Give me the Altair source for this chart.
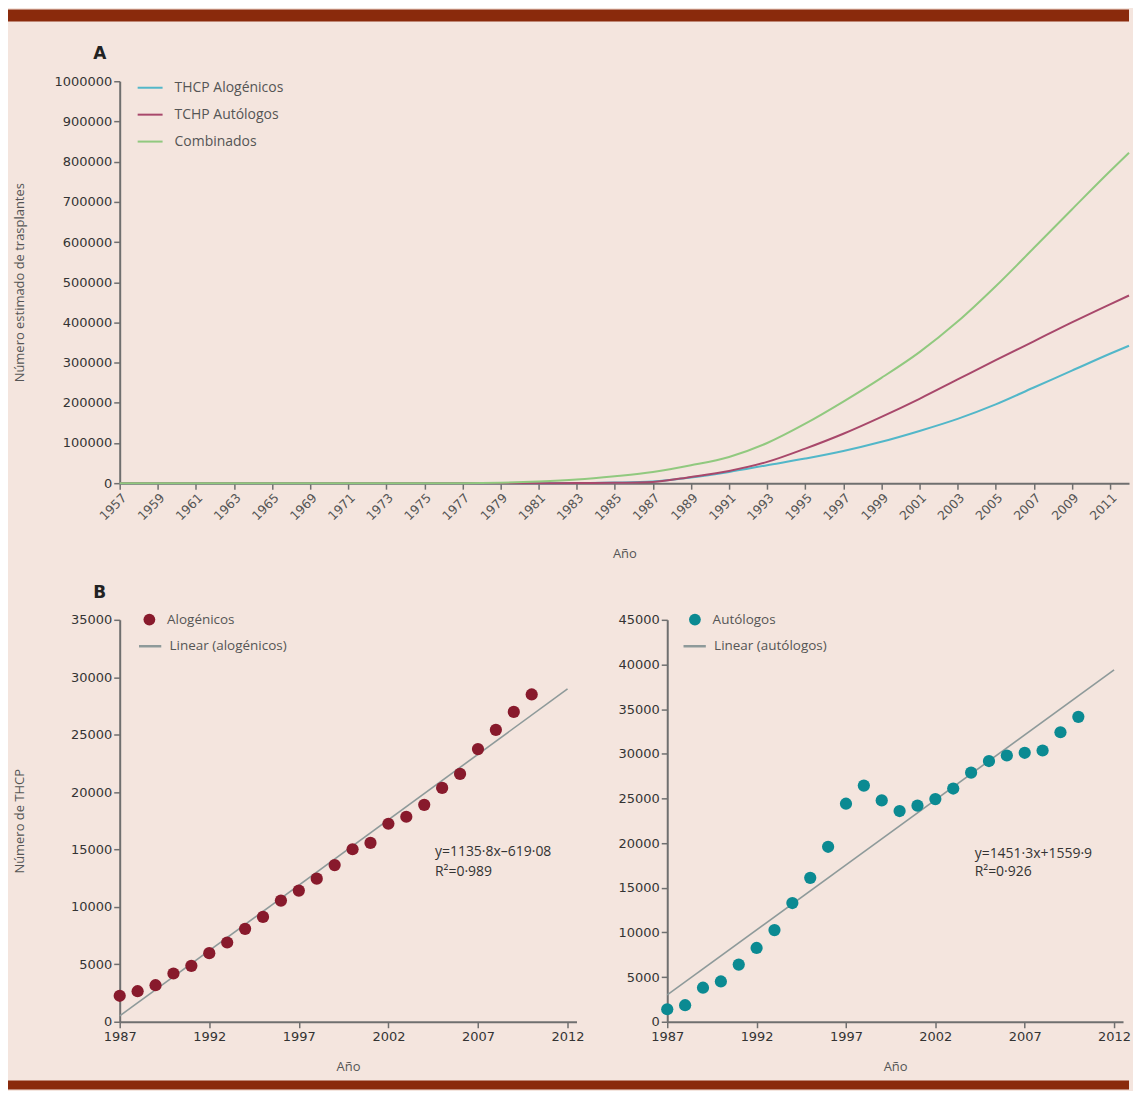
import altair as alt
import pandas as pd

# ---------------- Panel A data ----------------
etiquetas_a = ["1957", "1959", "1961", "1963", "1965", "1969", "1971", "1973", "1975",
               "1977", "1979", "1981", "1983", "1985", "1987", "1989", "1991", "1993",
               "1995", "1997", "1999", "2001", "2003", "2005", "2007", "2009", "2011"]
anios_a = [1957, 1959, 1961, 1963, 1965, 1969, 1971, 1973, 1975, 1977, 1979, 1981, 1983,
           1985, 1987, 1989, 1991, 1993, 1995, 1997, 1999, 2001, 2003, 2005, 2007, 2009,
           2011, 2012]
alogenicos_a = [0, 0, 0, 0, 0, 0, 0, 0, 0, 0, 0, 0, 500, 1500, 4000, 14000, 28000, 44700,
                61300, 80000, 103000, 130000, 160000, 196000, 238000, 280000, 322000, 342000]
autologos_a = [0, 0, 0, 0, 0, 0, 0, 0, 0, 0, 0, 0, 500, 1000, 3000, 15600, 30500, 52900,
               86000, 123000, 165000, 210000, 258000, 306000, 353000, 400000, 445000, 467000]
combinados_a = [0, 0, 0, 0, 0, 0, 0, 0, 0, 0, 1000, 4000, 9000, 17400, 28000, 44700, 65300,
                100000, 148000, 203000, 262000, 326000, 402000, 490000, 585000, 681000,
                776000, 822000]
series_a = ["THCP Alogénicos", "TCHP Autólogos", "Combinados"]
colores_a = ["#52b7c9", "#a8486b", "#91c97f"]

# ---------------- Panel B data ----------------
anios_b = list(range(1987, 2011))
alogenicos_b = [2260, 2660, 3180, 4200, 4870, 5970, 6900, 8090, 9130, 10550, 11420, 12460,
                13640, 15020, 15570, 17240, 17850, 18890, 20360, 21580, 23740, 25420,
                26980, 28500]
autologos_b = [1400, 1850, 3810, 4510, 6400, 8260, 10260, 13290, 16110, 19590, 24410,
               26440, 24780, 23590, 24190, 24930, 26110, 27890, 29190, 29810, 30110,
               30370, 32410, 34140]
ticks_b = [1987, 1992, 1997, 2002, 2007, 2012]
texto_izq = ["y=1135·8x–619·08", "R²=0·989"]
texto_der = ["y=1451·3x+1559·9", "R²=0·926"]

FONDO = "#f4e5de"
ROJO = "#8a2a0c"
GRIS = "#8e9a9a"
FUENTE = "DejaVu Sans"
FUENTE2 = "Open Sans"


def posicion(a):
    return (a - 1957) / 2 if a < 1967 else (a - 1969) / 2 + 5


filas = []
for nombre, vals in zip(series_a, [alogenicos_a, autologos_a, combinados_a]):
    for a, v in zip(anios_a, vals):
        filas.append({"serie": nombre, "pos": posicion(a), "valor": v})
df_a = pd.DataFrame(filas)

expr_etq = "[" + ",".join("'" + e + "'" for e in etiquetas_a) + "][datum.value]"

lineas = alt.Chart(df_a).mark_line(strokeWidth=2, interpolate="monotone").encode(
    x=alt.X("pos:Q", scale=alt.Scale(domain=[0, 26.5], nice=False, zero=False),
            axis=alt.Axis(values=list(range(27)), labelExpr=expr_etq, labelAngle=-45,
                          title="Año", labelFontSize=12.5, labelColor="#555",
                          titlePadding=25, labelPadding=2, labelFlush=False)),
    y=alt.Y("valor:Q", scale=alt.Scale(domain=[0, 1000000], nice=False),
            axis=alt.Axis(values=list(range(0, 1000001, 100000)), format="d",
                          title="Número estimado de trasplantes", titlePadding=28,
                          labelFontSize=13, labelColor="#333")),
    color=alt.Color("serie:N", sort=series_a,
                    scale=alt.Scale(domain=series_a, range=colores_a),
                    legend=alt.Legend(orient="none", legendX=17, legendY=-7, title=None,
                                      symbolType="stroke", symbolSize=625,
                                      symbolStrokeWidth=2, labelOffset=11,
                                      labelFontSize=14, labelFont=FUENTE2,
                                      labelColor="#555", rowPadding=6, padding=0)),
)

uno = pd.DataFrame({"k": [0]})
barra_sup = alt.Chart(uno).mark_rect(color=ROJO).encode(
    x=alt.value(-112), x2=alt.value(1012), y=alt.value(-72), y2=alt.value(-60))
letra_a = alt.Chart(uno).mark_text(fontSize=17, fontWeight="bold", font=FUENTE,
                                   color="#222").encode(
    x=alt.value(-20), y=alt.value(-27), text=alt.value("A"))

panel_a = alt.layer(lineas, barra_sup, letra_a).properties(width=1012, height=403)

df_b = pd.DataFrame({"anio": anios_b, "alo": alogenicos_b, "auto": autologos_b})


def panel_b(campo, nombre_p, nombre_l, color_p, ymax, titulo_y, textos, tx, ty1, ty2,
            leg_c, leg_l, extra=None):
    eje_x = alt.X("anio:Q", scale=alt.Scale(domain=[1987, 2012.5], nice=False, zero=False),
                  axis=alt.Axis(values=ticks_b, format="d", title="Año", labelFontSize=13,
                                labelColor="#333", titlePadding=17, labelPadding=3,
                                labelFlush=False))
    eje_y = alt.Y(campo + ":Q", scale=alt.Scale(domain=[0, ymax], nice=False),
                  axis=alt.Axis(values=list(range(0, ymax + 1, 5000)), format="d",
                                title=titulo_y, titlePadding=44, labelFontSize=13,
                                labelColor="#333"))
    puntos = alt.Chart(df_b).transform_calculate(serie_p="'" + nombre_p + "'").mark_circle(
        size=150, opacity=1).encode(
        x=eje_x, y=eje_y,
        fill=alt.Fill("serie_p:N", scale=alt.Scale(domain=[nombre_p], range=[color_p]),
                      legend=alt.Legend(orient="none", legendX=leg_c, legendY=-7,
                                        title=None, symbolType="circle", symbolSize=140,
                                        labelOffset=11, labelFontSize=13.5,
                                        labelFont=FUENTE2, labelColor="#555",
                                        padding=0, symbolStrokeWidth=0)))
    recta = alt.Chart(df_b).transform_regression(
        "anio", campo, extent=[1987, 2012]).transform_calculate(
        serie_l="'" + nombre_l + "'").mark_line(strokeWidth=1.6).encode(
        x="anio:Q", y=campo + ":Q",
        stroke=alt.Stroke("serie_l:N", scale=alt.Scale(domain=[nombre_l], range=[GRIS]),
                          legend=alt.Legend(orient="none", legendX=leg_l, legendY=14,
                                            title=None, symbolType="stroke",
                                            symbolSize=500, symbolStrokeWidth=2.5,
                                            labelOffset=7, labelFontSize=13.5,
                                            labelFont=FUENTE2, labelColor="#555",
                                            padding=0)))
    t1 = alt.Chart(uno).mark_text(align="left", baseline="middle", fontSize=14,
                                  font=FUENTE2, color="#333").encode(
        x=alt.datum(tx), y=alt.datum(ty1), text=alt.value(textos[0]))
    t2 = alt.Chart(uno).mark_text(align="left", baseline="middle", fontSize=14,
                                  font=FUENTE2, color="#333").encode(
        x=alt.datum(tx), y=alt.datum(ty2), text=alt.value(textos[1]))
    capas = [recta, puntos, t1, t2]
    if extra is not None:
        capas.extend(extra)
    return alt.layer(*capas).resolve_scale(fill="independent", stroke="independent")


barra_inf = alt.Chart(uno).mark_rect(color=ROJO).encode(
    x=alt.value(-112), x2=alt.value(1012), y=alt.value(462), y2=alt.value(471))
letra_b = alt.Chart(uno).mark_text(fontSize=17, fontWeight="bold", font=FUENTE,
                                   color="#222").encode(
    x=alt.value(-20), y=alt.value(-27), text=alt.value("B"))

izq = panel_b("alo", "Alogénicos", "Linear (alogénicos)", "#881a2c", 35000, "Número de THCP",
              texto_izq, 2004.6, 14750, 13050, 23, 18,
              extra=[barra_inf, letra_b]).properties(width=458, height=403)
der = panel_b("auto", "Autólogos", "Linear (autólogos)", "#0b8a92", 45000, None,
              texto_der, 2004.2, 18750, 16800, 21, 15).properties(width=457, height=403)

fila_b = alt.hconcat(izq, der, spacing=91, bounds="flush").resolve_scale(
    fill="independent", stroke="independent")

chart = alt.vconcat(panel_a, fila_b, spacing=137, bounds="flush").resolve_scale(
    color="independent", fill="independent", stroke="independent").properties(
    background=FONDO, padding=0).configure_view(stroke=None).configure_axis(
    grid=False, domainColor="#6f6f6f", domainWidth=2, tickColor="#6f6f6f", tickWidth=1.5,
    tickSize=6, labelFont=FUENTE, titleFont=FUENTE2, titleFontSize=13,
    titleFontWeight="normal", titleColor="#555")

chart.save("out.html", embed_options={"renderer": "svg", "actions": False})
